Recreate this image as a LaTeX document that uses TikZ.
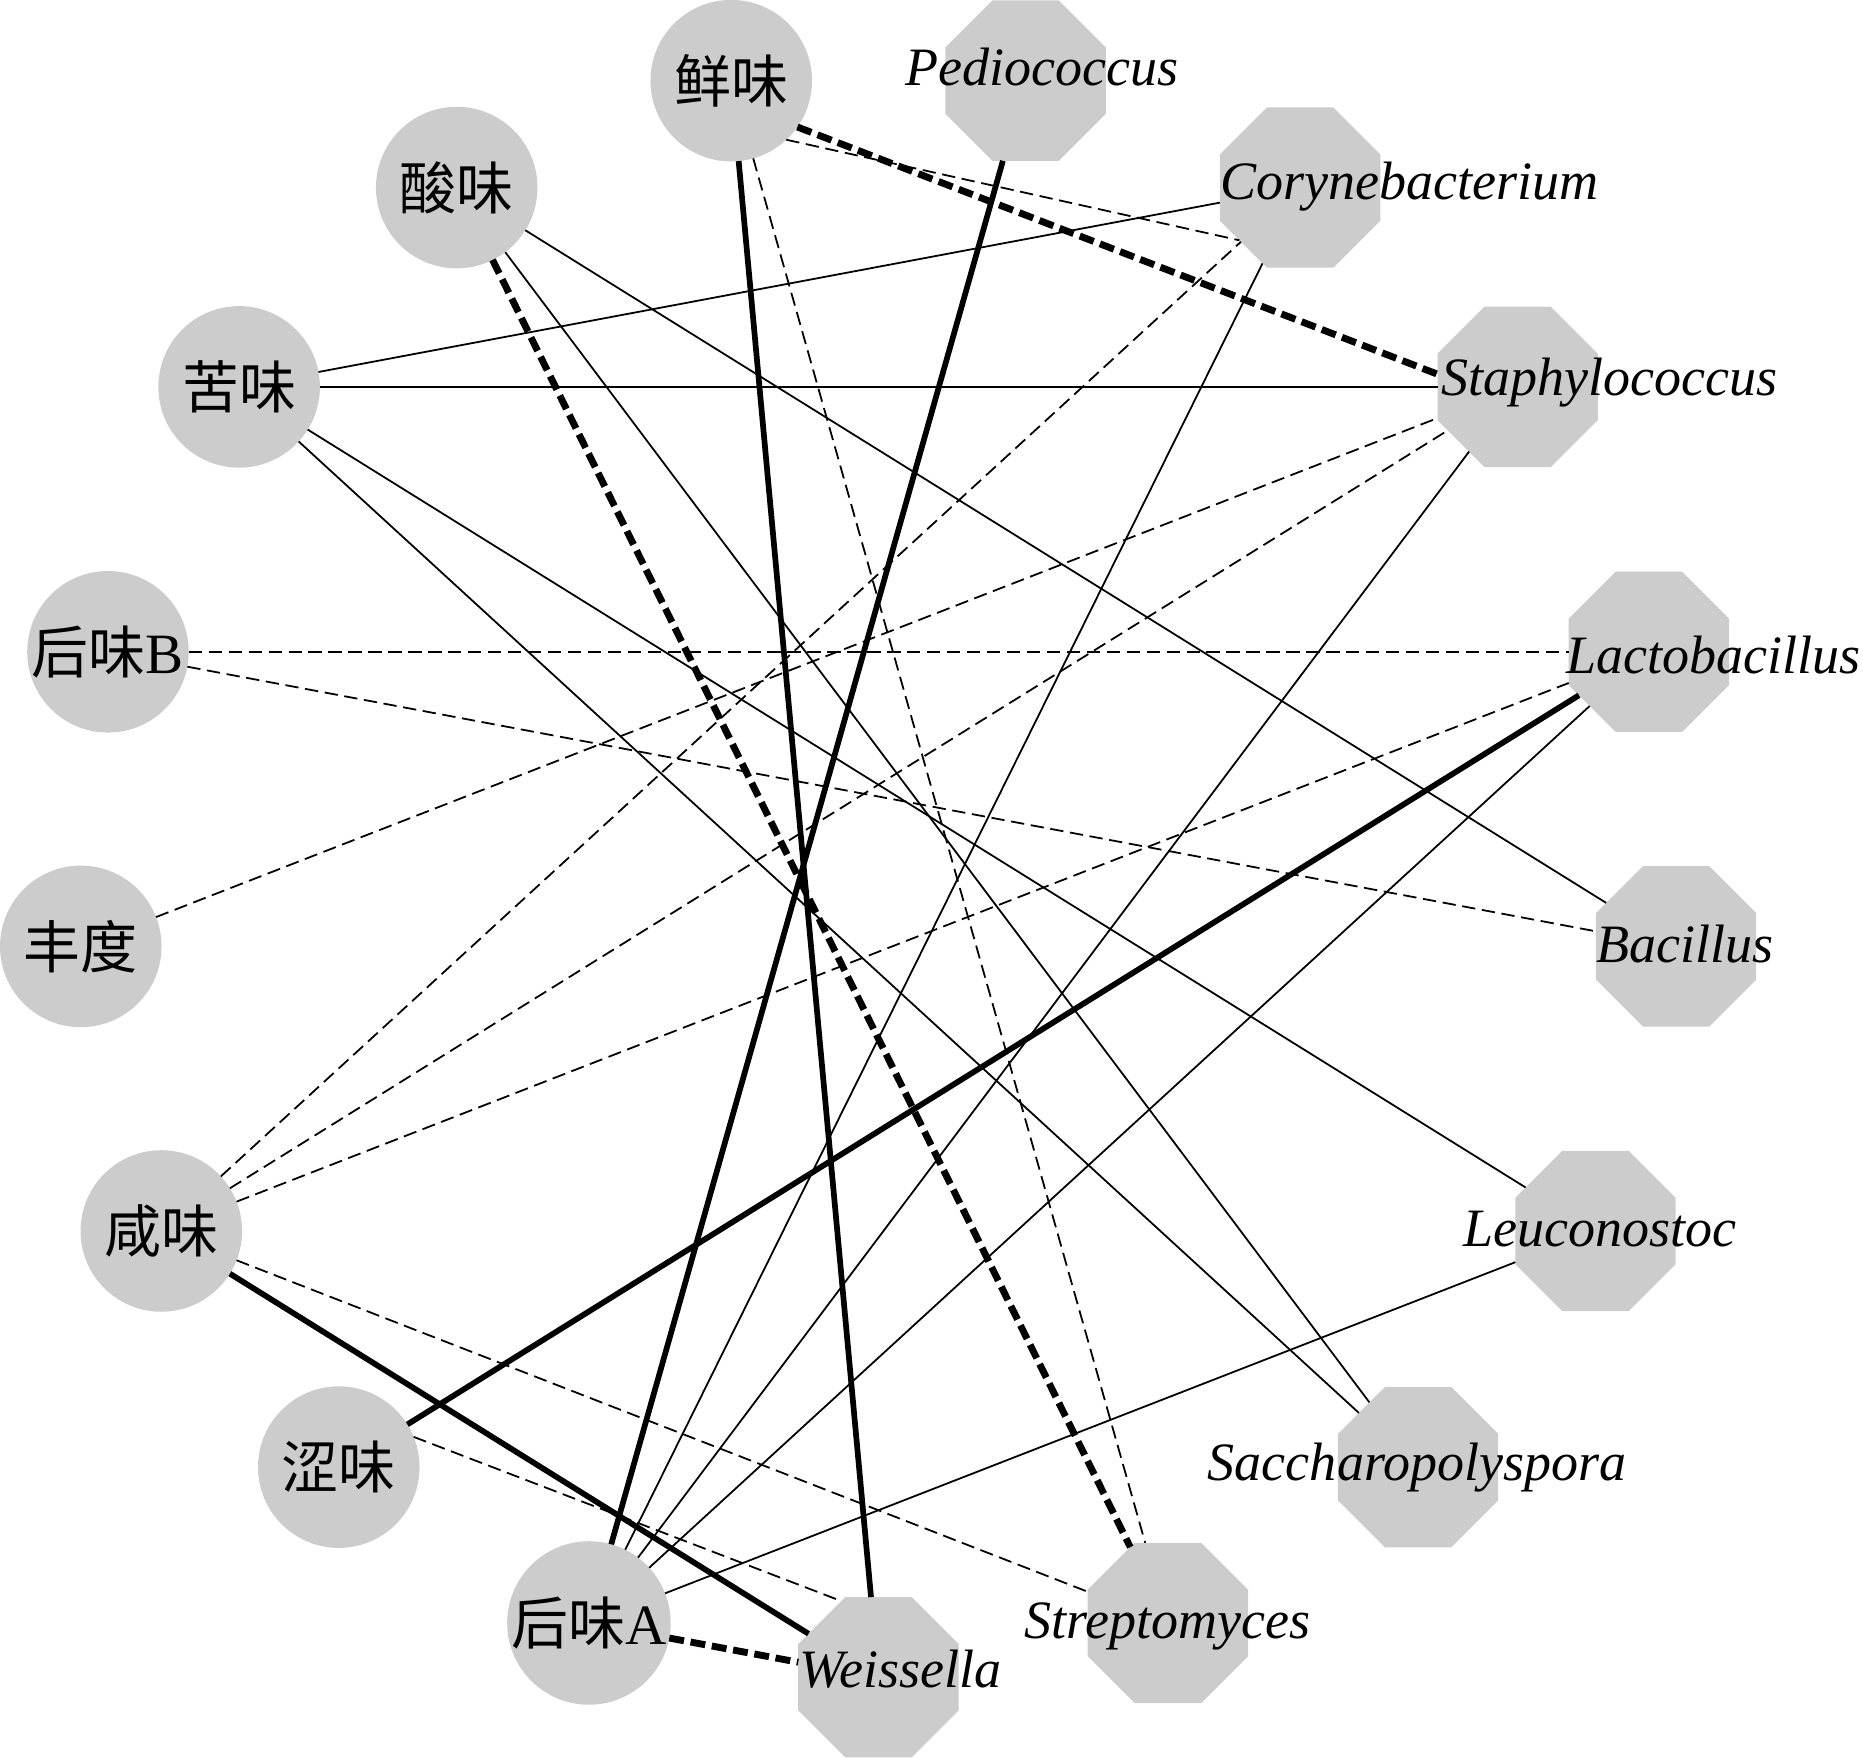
\documentclass[tikz,border=0pt]{standalone}
\usepackage{fontspec}
\setmainfont{Liberation Serif}
\newfontfamily\cjk{Noto Sans CJK SC}
\usetikzlibrary{shapes.geometric}
\definecolor{nodegray}{RGB}{204,204,204}
\newcommand\zhtxt[1]{{\cjk #1}}
\begin{document}
\begin{tikzpicture}[x=0.5pt,y=-0.5pt,
  taste/.style={circle,fill=nodegray,minimum size=68pt,inner sep=0pt,outer sep=0pt,font=\fontsize{24pt}{28pt}\selectfont},
  genus/.style={regular polygon,regular polygon sides=8,fill=nodegray,minimum size=73.06pt,inner sep=0pt,outer sep=0pt},
  glabel/.style={anchor=base,inner sep=0pt,font=\itshape\fontsize{22.75pt}{27pt}\selectfont},
  thinsolid/.style={line width=0.75pt},
  thindash/.style={line width=0.75pt,dash pattern=on 5.6pt off 2.8pt},
  thicksolid/.style={line width=2.4pt},
  thickdash/.style={line width=2.9pt,dash pattern=on 6.3pt off 2.8pt}]
\useasboundingbox (0,0) rectangle (1568.4,1480);
% genus nodes
\node[genus] (weis)   at (739.5,1412.0) {};
\node[genus] (strep)  at (983.2,1366.3) {};
\node[genus] (sacch)  at (1193.8,1235.1) {};
\node[genus] (leuc)   at (1343.2,1036.3) {};
\node[genus] (bac)    at (1411.0,796.7) {};
\node[genus] (lacto)  at (1388.1,548.7) {};
\node[genus] (staph)  at (1277.7,325.7) {};
\node[genus] (cory)   at (1094.5,157.9) {};
\node[genus] (pedio)  at (863.4,67.9) {};
% taste nodes
\node[taste] (xian)  at (615.6,67.9)  {\zhtxt{鲜味}};
\node[taste] (suan)  at (384.5,157.9) {\zhtxt{酸味}};
\node[taste] (ku)    at (201.3,325.7) {\zhtxt{苦味}};
\node[taste] (houB)  at (90.9,548.7)  {\zhtxt{后味}B};
\node[taste] (feng)  at (68.0,796.7)  {\zhtxt{丰度}};
\node[taste] (xian2) at (135.8,1036.3) {\zhtxt{咸味}};
\node[taste] (se)    at (285.2,1235.1) {\zhtxt{涩味}};
\node[taste] (houA)  at (495.8,1366.3) {\zhtxt{后味}A};
% edges
\draw[thickdash] (xian.-35) -- (staph.171.4);
\draw[thindash]  (xian.-47) -- (cory.221);
\draw[thicksolid] (xian) -- (weis);
\draw[thindash]  (xian) -- (strep);
\draw[thicksolid] (pedio) -- (houA);
\draw[thickdash] (suan) -- (strep);
\draw[thinsolid] (suan) -- (bac);
\draw[thinsolid] (suan) -- (sacch);
\draw[thinsolid] (ku) -- (cory);
\draw[thinsolid] (ku) -- (staph);
\draw[thinsolid] (ku) -- (leuc);
\draw[thinsolid] (ku) -- (sacch);
\draw[thindash]  (houB) -- (lacto);
\draw[thindash]  (houB) -- (bac);
\draw[thindash]  (feng) -- (staph);
\draw[thindash]  (xian2) -- (cory);
\draw[thindash]  (xian2) -- (staph);
\draw[thindash]  (xian2) -- (lacto);
\draw[thicksolid] (xian2) -- (weis);
\draw[thindash]  (xian2) -- (strep);
\draw[thindash]  (se.22) -- (weis.116);
\draw[thicksolid] (se) -- (lacto);
\draw[thickdash] (houA) -- (weis);
\draw[thinsolid] (houA) -- (cory);
\draw[thinsolid] (houA) -- (staph);
\draw[thinsolid] (houA) -- (lacto);
\draw[thinsolid] (houA) -- (leuc);
% genus labels
\node[glabel] (lpedio) at (877,72) {Pediococcus};
\node[glabel] (lcory)  at (1186.5,168) {Corynebacterium};
\node[glabel] (lstaph) at (1355,333) {Staphylococcus};
\node[glabel] (llacto) at (1442.5,567) {Lactobacillus};
\node[glabel] (lbac)   at (1418.5,810) {Bacillus};
\node[glabel] (lleuc)  at (1347,1049) {Leuconostoc};
\node[glabel] (lsacch) at (1193,1246) {Saccharopolyspora};
\node[glabel] (lstrep) at (983,1379.5) {Streptomyces};
\node[glabel] (lweis)  at (758,1421) {Weissella};
\end{tikzpicture}
\end{document}
